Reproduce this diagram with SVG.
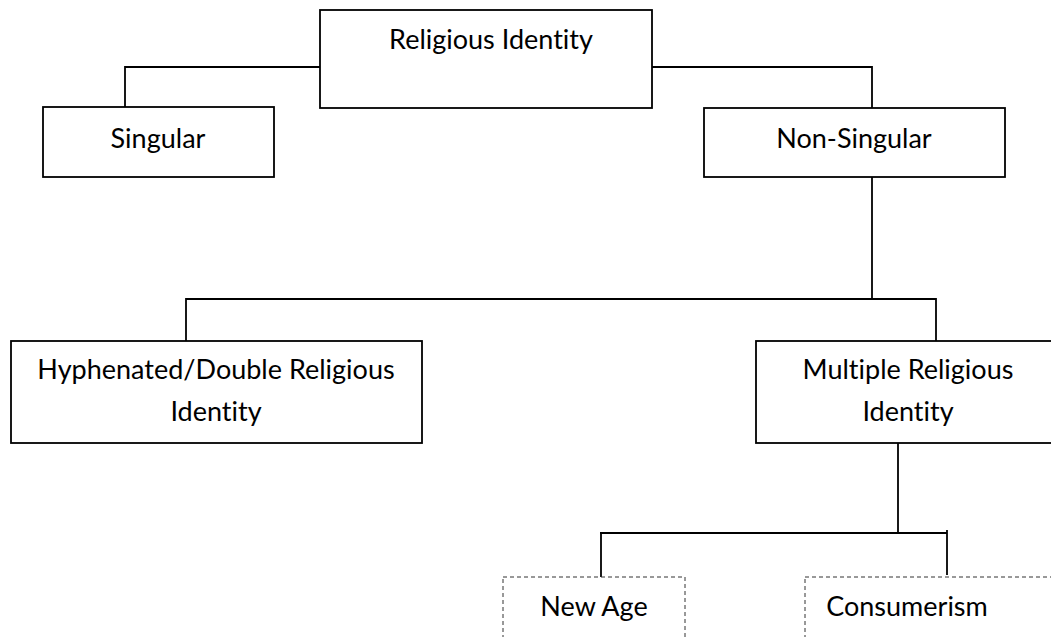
<svg xmlns="http://www.w3.org/2000/svg" width="1051" height="637" viewBox="0 0 1051 637">
  <style>
    .box { fill: #ffffff; stroke: #000000; stroke-width: 1.8; }
    .dash { fill: #ffffff; stroke: #333333; stroke-width: 1; stroke-dasharray: 4 3; }
    .lbl { font-family: Lato, "Open Sans", sans-serif; font-size: 27px; fill: #000000; text-anchor: middle;
           font-variant-ligatures: none; font-feature-settings: "liga" 0; }
    .wire { fill: none; stroke: #000000; stroke-width: 1.8; }
  </style>
  <rect width="1051" height="637" fill="#ffffff"/>

  <g id="connectors">
    <polyline class="wire" points="320,67 125,67 125,107"/>
    <polyline class="wire" points="652,67 872,67 872,108"/>
    <line class="wire" x1="872" y1="177" x2="872" y2="299"/>
    <line class="wire" x1="186" y1="299" x2="750" y2="299"/>
    <line class="wire" x1="740" y1="299" x2="936" y2="299"/>
    <line class="wire" x1="740" y1="299" x2="750" y2="299" stroke-width="2.6"/>
    <line class="wire" x1="186" y1="298" x2="186" y2="341"/>
    <line class="wire" x1="936" y1="298" x2="936" y2="341"/>
    <line class="wire" x1="898" y1="443" x2="898" y2="533"/>
    <line class="wire" x1="600" y1="533" x2="947" y2="533"/>
    <line class="wire" x1="601" y1="532" x2="601" y2="577"/>
    <line class="wire" x1="947" y1="530" x2="947" y2="575"/>
  </g>

  <g id="religious-identity">
    <rect class="box" x="320" y="10" width="332" height="98"/>
    <text class="lbl" x="491" y="49">Religious Identity</text>
  </g>

  <g id="singular">
    <rect class="box" x="43" y="107" width="231" height="70"/>
    <text class="lbl" x="158" y="148">Singular</text>
  </g>

  <g id="non-singular">
    <rect class="box" x="704" y="108" width="301" height="69"/>
    <text class="lbl" x="854" y="148">Non-Singular</text>
  </g>

  <g id="hyphenated">
    <rect class="box" x="11" y="341" width="411" height="102"/>
    <text class="lbl" x="216" y="379">Hyphenated/Double Religious</text>
    <text class="lbl" x="216" y="421">Identity</text>
  </g>

  <g id="multiple">
    <rect class="box" x="756" y="341" width="310" height="102"/>
    <text class="lbl" x="908" y="379">Multiple Religious</text>
    <text class="lbl" x="908" y="421">Identity</text>
  </g>

  <g id="new-age">
    <rect class="dash" x="503" y="577" width="182" height="80"/>
    <text class="lbl" x="594" y="616">New Age</text>
  </g>

  <g id="consumerism">
    <rect class="dash" x="805" y="577" width="280" height="80"/>
    <text class="lbl" x="907" y="616">Consumerism</text>
  </g>
</svg>
